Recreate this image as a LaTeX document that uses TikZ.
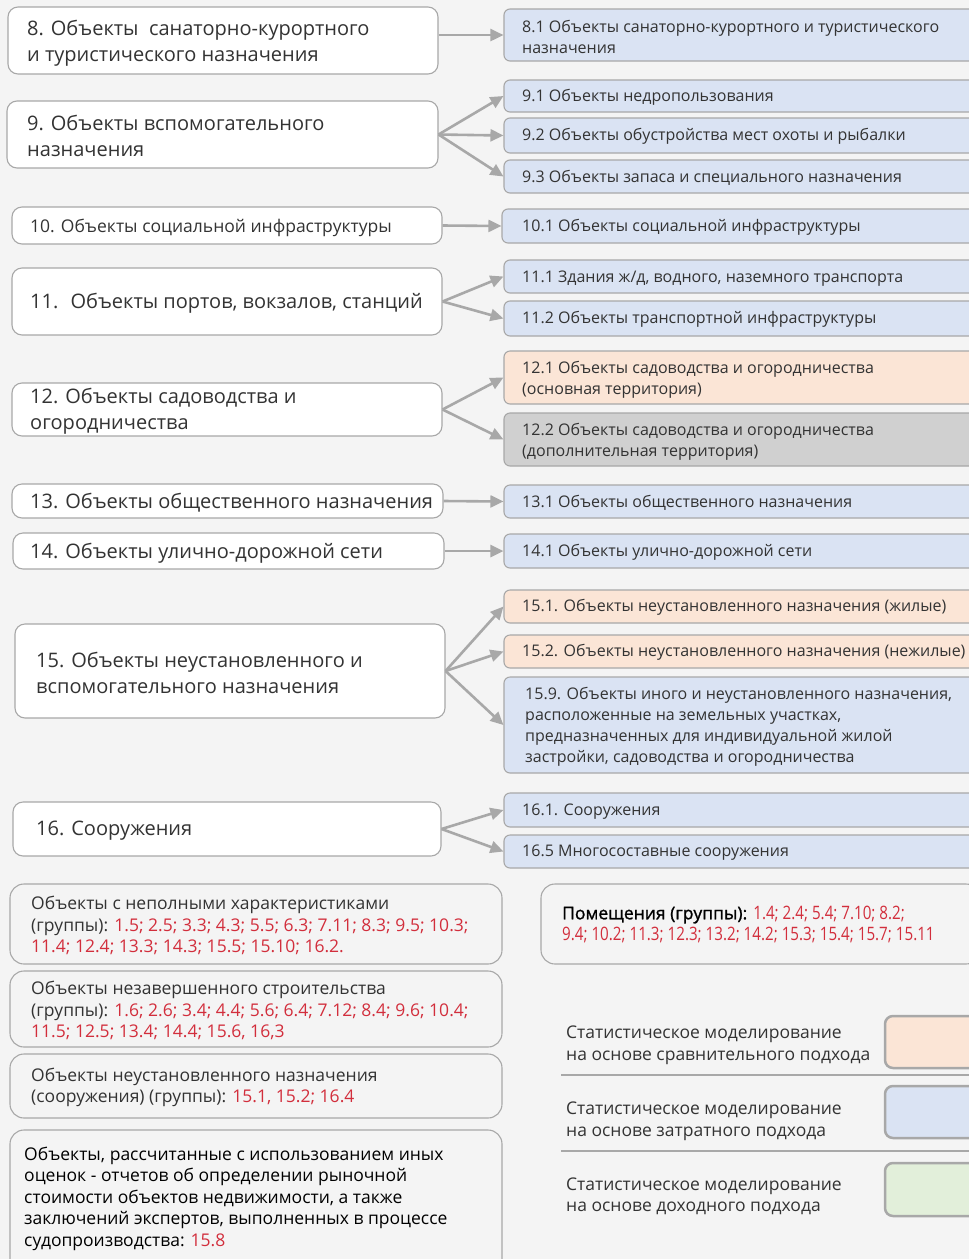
\documentclass[tikz,border=0pt]{standalone}
\usepackage{fontspec}
\setmainfont{Open Sans}
\newfontfamily\medfont{Open Sans}[FakeBold=1.2]
\newfontfamily\narrowfont{Open Sans}[FakeStretch=0.82]
\usetikzlibrary{arrows.meta,fit}
\definecolor{bg}{HTML}{F4F4F4}
\definecolor{bluef}{HTML}{DAE3F3}
\definecolor{peach}{HTML}{FBE5D6}
\definecolor{grayf}{HTML}{D0D0D0}
\definecolor{greenf}{HTML}{E2EFDA}
\definecolor{edge}{HTML}{A8A8A8}
\definecolor{txt}{HTML}{333333}
\definecolor{num}{HTML}{D22E3C}
\newcommand{\rd}[1]{\textcolor{num}{#1}}
\tikzset{
  lbox/.style={draw=edge,line width=1.1pt,fill=white,rounded corners=10pt,inner sep=0pt},
  rbox/.style={draw=edge,line width=1.1pt,fill=bluef,rounded corners=6pt,inner sep=0pt},
  pbox/.style={rbox,fill=peach},
  gbox/.style={rbox,fill=grayf},
  nbox/.style={draw=edge,line width=1.1pt,fill=bg,rounded corners=14pt,inner sep=0pt},
  swatch/.style={draw=edge,line width=2.5pt,rounded corners=8pt,inner sep=0pt},
  bigt/.style={anchor=west,align=left,text=txt,inner sep=0pt,yshift=-2pt,font=\fontsize{20}{26}\selectfont},
  midt/.style={anchor=west,align=left,text=txt,inner sep=0pt,yshift=-1.5pt,font=\fontsize{17.5}{22}\selectfont},
  smt/.style={anchor=west,align=left,text=txt,inner sep=0pt,yshift=-1.5pt,font=\fontsize{16}{21}\selectfont},
  bott/.style={anchor=west,align=left,text=txt,inner sep=0pt,yshift=-1.5pt,font=\fontsize{17.5}{21.5}\selectfont},
  arr/.style={draw=edge,line width=2.6pt,-{Triangle[length=13pt,width=12pt]}},
  sepline/.style={draw=edge,line width=1.5pt}
}
\begin{document}
\begin{tikzpicture}[x=1pt,y=-1pt]
\useasboundingbox (0,0) rectangle (969,1259);
\fill[bg] (0,0) rectangle (969,1259);

% left boxes
\node[lbox,fit={(8,7)(438,74)}] (b8) {};
\node[bigt] (t8) at (27,41) {8. Объекты~ санаторно-курортного\\и туристического назначения};
\node[lbox,fit={(7,101)(438,168)}] (b9) {};
\node[bigt] (t9) at (27,134) {9. Объекты вспомогательного\\назначения};
\node[lbox,fit={(12,207)(442,244)}] (b10) {};
\node[midt] (t10) at (30,226) {10. Объекты социальной инфраструктуры};
\node[lbox,fit={(12,268)(442,335)}] (b11) {};
\node[bigt] (t11) at (30,301) {11.~ Объекты портов, вокзалов, станций};
\node[lbox,fit={(12,383)(442,436)}] (b12) {};
\node[bigt] (t12) at (30,409) {12. Объекты садоводства и\\огородничества};
\node[lbox,fit={(12,484)(443,518)}] (b13) {};
\node[bigt] (t13) at (30,501) {13. Объекты общественного назначения};
\node[lbox,fit={(13,533)(444,569)}] (b14) {};
\node[bigt] (t14) at (30,551) {14. Объекты улично-дорожной сети};
\node[lbox,fit={(15,624)(445,718)}] (b15) {};
\node[bigt] (t15) at (36,671) {15. Объекты неустановленного и\\вспомогательного назначения};
\node[lbox,fit={(13,802)(441,856)}] (b16) {};
\node[bigt] (t16) at (36,829) {16. Сооружения};

% right boxes
\node[rbox,fit={(504,9)(976,61)}] (r81) {};
\node[smt] (s81) at (522,35) {8.1 Объекты санаторно-курортного и туристического\\назначения};
\node[rbox,fit={(504,80)(976,112)}] (r91) {};
\node[smt] (s91) at (522,96) {9.1 Объекты недропользования};
\node[rbox,fit={(504,118)(976,153)}] (r92) {};
\node[smt] (s92) at (522,135) {9.2 Объекты обустройства мест охоты и рыбалки};
\node[rbox,fit={(504,160)(976,193)}] (r93) {};
\node[smt] (s93) at (522,176) {9.3 Объекты запаса и специального назначения};
\node[rbox,fit={(502,209)(976,243)}] (r101) {};
\node[smt] (s101) at (522,226) {10.1 Объекты социальной инфраструктуры};
\node[rbox,fit={(504,260)(976,293)}] (r111) {};
\node[smt] (s111) at (522,277) {11.1 Здания ж/д, водного, наземного транспорта};
\node[rbox,fit={(504,301)(976,336)}] (r112) {};
\node[smt] (s112) at (522,318) {11.2 Объекты транспортной инфраструктуры};
\node[pbox,fit={(504,351)(976,404)}] (r121) {};
\node[smt] (s121) at (522,378) {12.1 Объекты садоводства и огородничества\\(основная территория)};
\node[gbox,fit={(504,413)(976,466)}] (r122) {};
\node[smt] (s122) at (522,440) {12.2 Объекты садоводства и огородничества\\(дополнительная территория)};
\node[rbox,fit={(504,485)(976,518)}] (r131) {};
\node[smt] (s131) at (522,501) {13.1 Объекты общественного назначения};
\node[rbox,fit={(504,534)(976,568)}] (r141) {};
\node[smt] (s141) at (522,551) {14.1 Объекты улично-дорожной сети};
\node[pbox,fit={(504,590)(976,623)}] (r151) {};
\node[smt] (s151) at (522,606) {15.1. Объекты неустановленного назначения (жилые)};
\node[pbox,fit={(504,635)(976,668)}] (r152) {};
\node[smt] (s152) at (522,651) {15.2. Объекты неустановленного назначения (нежилые)};
\node[rbox,fit={(504,677)(976,773)}] (r159) {};
\node[smt] (s159) at (525,725) {15.9. Объекты иного и неустановленного назначения,\\расположенные на земельных участках,\\предназначенных для индивидуальной жилой\\застройки, садоводства и огородничества};
\node[rbox,fit={(504,793)(976,827)}] (r161) {};
\node[smt] (s161) at (522,810) {16.1. Сооружения};
\node[rbox,fit={(504,835)(976,868)}] (r165) {};
\node[smt] (s165) at (522,851) {16.5 Многосоставные сооружения};

% arrows
\draw[arr] (b8.east |- r81.west) -- (r81.west);
\draw[arr] (b9.east) -- (r91.west);
\draw[arr] (b9.east) -- (r92.west);
\draw[arr] (b9.east) -- (r93.west);
\draw[arr] (b10.east) -- (r101.west);
\draw[arr] (b11.east) -- (r111.west);
\draw[arr] (b11.east) -- (r112.west);
\draw[arr] (b12.east) -- (r121.west);
\draw[arr] (b12.east) -- (r122.west);
\draw[arr] (b13.east) -- (r131.west);
\draw[arr] (b14.east) -- (r141.west);
\draw[arr] (b15.east) -- (r151.west);
\draw[arr] (b15.east) -- (r152.west);
\draw[arr] (b15.east) -- (r159.west);
\draw[arr] (b16.east) -- (r161.west);
\draw[arr] (b16.east) -- (r165.west);

% bottom notes
\node[nbox,fit={(10,884)(502,964)}] (nA) {};
\node[bott] (uA) at (31,924) {Объекты с неполными характеристиками\\(группы): \rd{1.5; 2.5; 3.3; 4.3; 5.5; 6.3; 7.11; 8.3; 9.5; 10.3;}\\\rd{11.4; 12.4; 13.3; 14.3; 15.5; 15.10; 16.2.}};
\node[nbox,fit={(10,971)(502,1047)}] (nB) {};
\node[bott] (uB) at (31,1009) {Объекты незавершенного строительства\\(группы): \rd{1.6; 2.6; 3.4; 4.4; 5.6; 6.4; 7.12; 8.4; 9.6; 10.4;}\\\rd{11.5; 12.5; 13.4; 14.4; 15.6, 16,3}};
\node[nbox,fit={(10,1054)(502,1118)}] (nC) {};
\node[bott] (uC) at (31,1086) {Объекты неустановленного назначения\\(сооружения) (группы): \rd{15.1, 15.2; 16.4}};
\node[nbox,fit={(10,1130)(502,1280)}] (nD) {};
\node[bott,text=black] (uD) at (24,1197) {Объекты, рассчитанные с использованием иных\\оценок - отчетов об определении рыночной\\стоимости объектов недвижимости, а также\\заключений экспертов, выполненных в процессе\\судопроизводства: \rd{15.8}};
\node[nbox,fit={(541,884)(980,964)}] (nP) {};
\node[bott,text=black] (uP) at (562,923) {{\medfont Помещения (группы):} {\narrowfont\fontsize{18.5}{21.5}\selectfont\rd{1.4; 2.4; 5.4; 7.10; 8.2;}}\\{\narrowfont\fontsize{18.5}{21.5}\selectfont\rd{9.4; 10.2; 11.3; 12.3; 13.2; 14.2; 15.3; 15.4; 15.7; 15.11}}};

% legend
\node[bott] (l1) at (566,1044) {Статистическое моделирование\\на основе сравнительного подхода};
\node[bott] (l2) at (566,1120) {Статистическое моделирование\\на основе затратного подхода};
\node[bott] (l3) at (566,1195) {Статистическое моделирование\\на основе доходного подхода};
\node[swatch,fill=peach,fit={(885,1016)(980,1068)}] (w1) {};
\node[swatch,fill=bluef,fit={(885,1086)(980,1138)}] (w2) {};
\node[swatch,fill=greenf,fit={(885,1163)(980,1216)}] (w3) {};
\coordinate (sa1) at (561,1075);
\coordinate (sb1) at (969,1075);
\coordinate (sa2) at (561,1151);
\coordinate (sb2) at (969,1151);
\draw[sepline] (sa1) -- (sb1);
\draw[sepline] (sa2) -- (sb2);
\end{tikzpicture}
\end{document}
